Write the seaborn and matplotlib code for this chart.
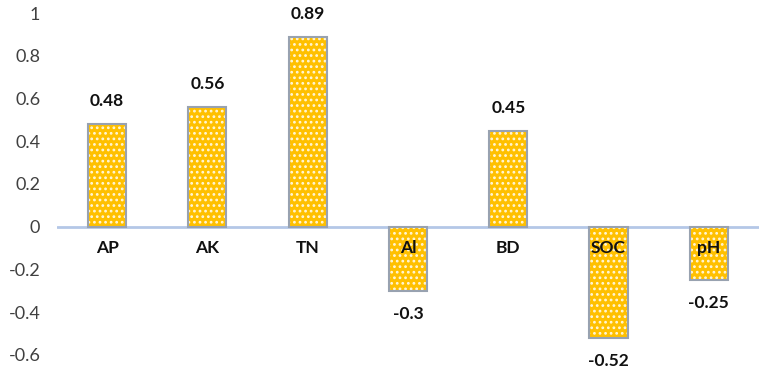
import matplotlib
matplotlib.use("Agg")
import matplotlib.pyplot as plt
import seaborn as sns
import pandas as pd
from matplotlib.patches import Rectangle

categories = ["AP", "AK", "TN", "Al", "BD", "SOC", "pH"]
values = [0.48, 0.56, 0.89, -0.3, 0.45, -0.52, -0.25]
value_labels = ["0.48", "0.56", "0.89", "-0.3", "0.45", "-0.52", "-0.25"]
yticks = [-0.6, -0.4, -0.2, 0, 0.2, 0.4, 0.6, 0.8, 1]
ytick_labels = ["-0.6", "-0.4", "-0.2", "0", "0.2", "0.4", "0.6", "0.8", "1"]

sns.set_theme(style="white")
plt.rcParams["font.family"] = ["Lato", "DejaVu Sans"]
plt.rcParams["hatch.linewidth"] = 1.2

df = pd.DataFrame({"cat": categories, "val": values})

fig = plt.figure(figsize=(7.59, 3.72), dpi=100)
ax = fig.add_axes([0.075, 0.046, 0.925, 0.919])

sns.barplot(data=df, x="cat", y="val", order=categories, color="#FFC000",
            saturation=1, width=0.38, edgecolor="#FFF6D8", linewidth=0,
            hatch="...", ax=ax)

for p in list(ax.patches):
    ax.add_patch(Rectangle(p.get_xy(), p.get_width(), p.get_height(),
                           fill=False, edgecolor="#98A2B0", linewidth=1.5,
                           zorder=p.get_zorder() + 0.1))

ax.axhline(0, color="#B4C7E7", linewidth=2, zorder=0.5)

for i, (v, lab) in enumerate(zip(values, value_labels)):
    off = 23 if v >= 0 else -23
    ax.annotate(lab, xy=(i, v), xytext=(0, off), textcoords="offset pixels",
                ha="center", va="center", fontsize=12.5, fontweight="bold",
                color="#111111")
    ax.text(i, -0.1, categories[i], ha="center", va="center",
            fontsize=12.5, fontweight="bold", color="#111111", zorder=5)

ax.set_xlim(-0.5, len(categories) - 0.5)
ax.set_ylim(-0.6, 1.0)
ax.set_yticks(yticks)
ax.set_yticklabels(ytick_labels, fontsize=13, color="#404040")
ax.set_xticks([])
ax.set_xlabel("")
ax.set_ylabel("")
ax.tick_params(axis="y", length=0, pad=12)
for s in ax.spines.values():
    s.set_visible(False)

fig.savefig("out.png", dpi=100)
